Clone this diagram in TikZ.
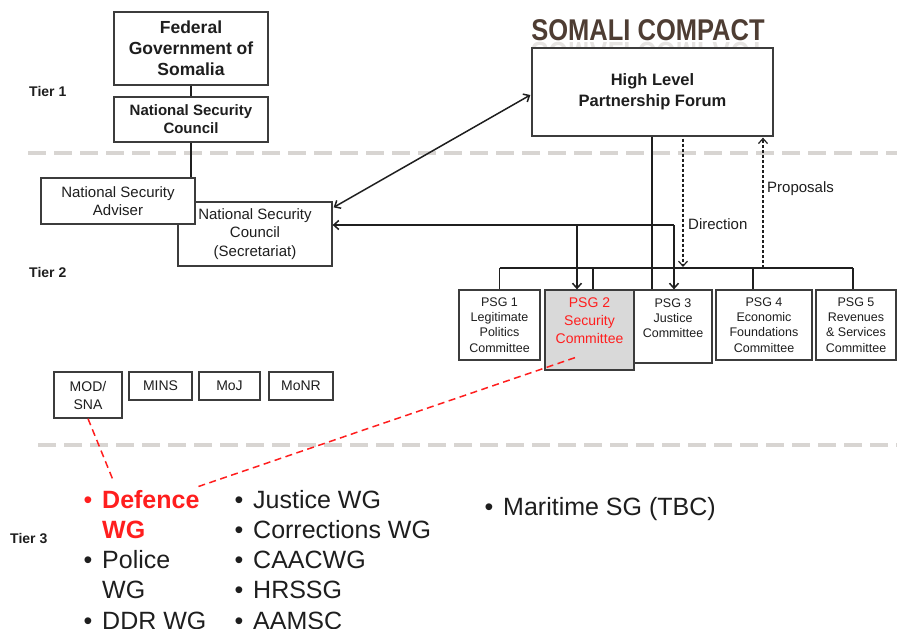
\documentclass[tikz,border=0pt]{standalone}
\usepackage{fontspec}
\setmainfont{Liberation Sans}
\usepackage{graphicx}
\usetikzlibrary{arrows.meta,calc}
\definecolor{bordergray}{HTML}{3C3C3C}
\definecolor{tiergray}{HTML}{D8D5D2}
\definecolor{compactbrown}{HTML}{4E3D33}
\definecolor{wgred}{HTML}{FF1E1E}
\definecolor{psgfill}{HTML}{D9D9D9}
\definecolor{inkgray}{HTML}{1E1E1E}
\newcommand\fsz[2]{\fontsize{#1}{#2}\selectfont}
\begin{document}
\begin{tikzpicture}[x=1pt,y=-1pt,
  box/.style={draw=bordergray, line width=1.3pt, fill=white, inner sep=0pt, align=center, text=inkgray},
  psgtext/.style={font=\fsz{12.5}{15.3}, align=center, text=inkgray, inner sep=0pt},
  smallbox/.style={box, font=\fsz{14}{18}},
  conn/.style={line width=1.5pt, draw=black!88},
  arrowend/.style={-{Straight Barb[length=5pt,width=9pt]}},
  arrboth/.style={{Straight Barb[length=5pt,width=9pt]}-{Straight Barb[length=5pt,width=9pt]}},
  dashconn/.style={line width=1.2pt, draw=black!88, dash pattern=on 3pt off 2pt},
  reddash/.style={line width=1.5pt, draw=wgred, dash pattern=on 7pt off 4.5pt},
  tierlab/.style={anchor=base west, font=\fsz{14}{14}\bfseries, text=inkgray, inner sep=0pt},
  wgtext/.style={anchor=base west, font=\fsz{25}{30}, text=inkgray, inner sep=0pt},
  wgbullet/.style={anchor=base, font=\fsz{25}{30}, text=inkgray, inner sep=0pt},
  lab/.style={anchor=west, font=\fsz{15}{18}, text=inkgray, inner sep=0pt}
]
\useasboundingbox (0,0) rectangle (897,629);

% tier separators
\draw[tiergray, line width=4.5pt, dash pattern=on 18pt off 8pt] (28,153) -- (897,153);
\draw[tiergray, line width=4.5pt, dash pattern=on 18pt off 8pt] (38,445) -- (897,445);

% title with reflection
\node[anchor=base, text=compactbrown, font=\fsz{30}{30}\bfseries, inner sep=0pt] (title) at (648,40) {\scalebox{0.85}[1]{SOMALI COMPACT}};
\node[anchor=base, text=compactbrown, opacity=0.14, font=\fsz{30}{30}\bfseries, inner sep=0pt] (titlerefl) at (648,42) {\scalebox{0.85}[-1]{SOMALI COMPACT}};

% tier 1 / 2 boxes
\node[box, minimum width=154pt, minimum height=73pt, font=\fsz{17.5}{21}\bfseries] (fgs) at (191,48.5) {Federal\\Government of\\Somalia};
\node[box, minimum width=154pt, minimum height=45pt, font=\fsz{15}{18}\bfseries] (nsc) at (191,119.5) {National Security\\Council};
\node[box, minimum width=154pt, minimum height=64pt, font=\fsz{15}{18.5}] (sec) at (255,234) {National Security\\Council\\(Secretariat)};
\node[box, minimum width=154pt, minimum height=46pt, font=\fsz{15}{18}] (nsa) at (118,201) {National Security\\Adviser};
\node[box, minimum width=241pt, minimum height=88pt, font=\fsz{16.5}{21}\bfseries] (hlpf) at (652.5,92) {High Level\\Partnership Forum};

\draw[conn] (fgs.south) -- (nsc.north);
\draw[conn] (nsc.south) -- (nsc.south |- nsa.north);

% PSG boxes
\node[box, minimum width=81pt, minimum height=70pt, psgtext] (psg1) at (499.5,325) {PSG 1\\Legitimate\\Politics\\Committee};
\node[box, fill=psgfill, minimum width=89pt, minimum height=80pt] (psg2) at (589.5,330) {};
\node[font=\fsz{14}{18}, text=wgred, align=center, inner sep=0pt] (psg2t) at (589.5,321) {PSG 2\\Security\\Committee};
\node[box, minimum width=78pt, minimum height=73pt] (psg3) at (673,326.5) {};
\node[psgtext] (psg3t) at (673,318) {PSG 3\\Justice\\Committee};
\node[box, minimum width=96pt, minimum height=70pt, psgtext] (psg4) at (764,325) {PSG 4\\Economic\\Foundations\\Committee};
\node[box, minimum width=80pt, minimum height=70pt, psgtext] (psg5) at (856,325) {PSG 5\\Revenues\\\& Services\\Committee};

% bracket over PSGs
\coordinate (bar) at (0,268);
\coordinate (p2d) at ($(psg2.north)+(3.5,0)$);
\coordinate (p4d) at ($(psg4.north)+(-11,0)$);
\coordinate (p5d) at ($(psg5.north)+(-3,0)$);
\draw[conn] (psg1.north |- bar) -- (p5d |- bar);
\draw[conn] (psg1.north |- bar) -- (psg1.north);
\draw[conn] (p2d |- bar) -- (p2d);
\draw[conn] (p4d |- bar) -- (p4d);
\draw[conn] (p5d |- bar) -- (p5d);

% HLPF to PSG3
\coordinate (hdrop) at ($(hlpf.south)+(-0.5,0)$);
\draw[conn] (hdrop) -- (hdrop |- psg3.north);

% secretariat links
\coordinate (fb3) at (674,225);
\coordinate (fb2) at (577,225);
\draw[conn, arrowend] (fb3) -- (sec.east |- fb3);
\draw[conn, arrowend] (fb3) -- (fb3 |- psg3.north);
\draw[conn, arrowend] (fb2) -- (fb2 |- psg2.north);
\draw[conn, arrboth] ($(sec.north east)+(1,6)$) -- ($(hlpf.west)+(-1,3)$);

% direction / proposals
\coordinate (dirtop) at ($(hlpf.south)+(30.5,2)$);
\coordinate (proptop) at ($(hlpf.south)+(110.5,1)$);
\draw[dashconn, arrowend] (dirtop) -- ($(dirtop |- bar)+(0,-1)$);
\draw[dashconn, arrowend] (proptop |- bar) -- (proptop);
\node[lab] (dirlab) at (688,224) {Direction};
\node[lab] (proplab) at (767,189) {Proposals};

% ministries
\node[smallbox, minimum width=68pt, minimum height=46pt] (mod) at (88,395) {MOD/\\SNA};
\node[smallbox, minimum width=63pt, minimum height=28pt] (mins) at (160.5,386) {MINS};
\node[smallbox, minimum width=61pt, minimum height=28pt] (moj) at (229.5,386) {MoJ};
\node[smallbox, minimum width=64pt, minimum height=28pt] (monr) at (301,386) {MoNR};

% tier labels
\node[tierlab] (t1) at (29,96) {Tier 1};
\node[tierlab] (t2) at (29,277) {Tier 2};
\node[tierlab] (t3) at (10,543) {Tier 3};

% working groups column 1
\node[wgbullet, text=wgred] (b1) at (88,508) {•};
\node[wgtext, text=wgred, font=\fsz{25}{30}\bfseries] (def) at (102,508) {Defence};
\node[wgtext, text=wgred, font=\fsz{25}{30}\bfseries] (defwg) at (102,538) {WG};
\node[wgbullet] (b2) at (88,568) {•};
\node[wgtext] (pol) at (102,568) {Police};
\node[wgtext] (polwg) at (102,598) {WG};
\node[wgbullet] (b3) at (88,629) {•};
\node[wgtext] (ddr) at (102,629) {DDR WG};

% column 2
\node[wgbullet] (c1) at (239,508) {•};
\node[wgtext] (jus) at (253,508) {Justice WG};
\node[wgbullet] (c2) at (239,538) {•};
\node[wgtext] (cor) at (253,538) {Corrections WG};
\node[wgbullet] (c3) at (239,568) {•};
\node[wgtext] (caa) at (253,568) {CAACWG};
\node[wgbullet] (c4) at (239,598) {•};
\node[wgtext] (hrs) at (253,598) {HRSSG};
\node[wgbullet] (c5) at (239,629) {•};
\node[wgtext] (aam) at (253,629) {AAMSC};

% column 3
\node[wgbullet] (m1) at (489,515) {•};
\node[wgtext] (mar) at (503,515) {Maritime SG (TBC)};

% red dashed links
\coordinate (defA) at (113,480);
\coordinate (defB) at (197,487);
\coordinate (p2r) at ($(psg2.south)+(-14.5,-13)$);
\draw[reddash] (mod.south) -- (defA);
\draw[reddash] (p2r) -- (defB);
\end{tikzpicture}
\end{document}
